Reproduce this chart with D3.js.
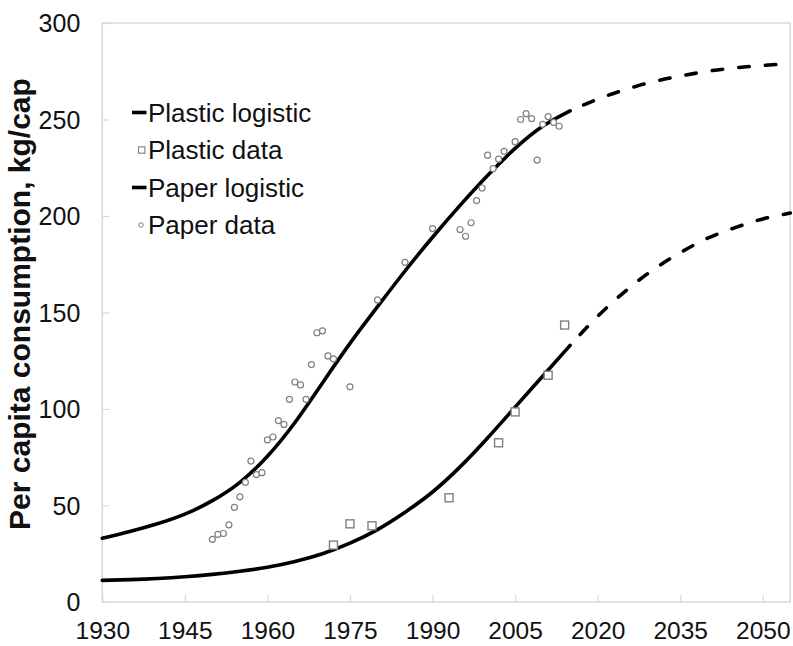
<!DOCTYPE html>
<html>
<head>
<meta charset="utf-8">
<script src="https://cdn.jsdelivr.net/npm/d3@7"></script>
<style>
  html, body { margin: 0; padding: 0; background: #fff; }
  svg { display: block; font-family: "Liberation Sans", Arial, sans-serif; }
</style>
</head>
<body>
<svg id="chart" width="793" height="646"></svg>
<script>
// Observed paper consumption (kg per capita)
const paperYears = [1950, 1951, 1952, 1953, 1954, 1955, 1956, 1957, 1958, 1959,
  1960, 1961, 1962, 1963, 1964, 1965, 1966, 1967, 1968, 1969, 1970, 1971, 1972,
  1975, 1980, 1985, 1990, 1995, 1996, 1997, 1998, 1999, 2000, 2001, 2002, 2003,
  2005, 2006, 2007, 2008, 2009, 2010, 2011, 2012, 2013];
const paperValues = [32.5, 35, 35.5, 40, 49, 54.5, 62, 73, 66, 67,
  84, 85.5, 94, 92, 105, 114, 112.5, 105, 123, 139.5, 140.5, 127.5, 126,
  111.5, 156.5, 176, 193.5, 193, 189.5, 196.5, 208, 214.5, 231.5, 224.5, 229.5, 233.5,
  238.5, 250, 253, 250.5, 229, 247.5, 251.5, 248.5, 246.5];

// Observed plastic consumption (kg per capita)
const plasticYears = [1972, 1975, 1979, 1993, 2002, 2005, 2011, 2014];
const plasticValues = [29.5, 40.5, 39.5, 54, 82.5, 98.5, 117.5, 143.5];

// Logistic fits sampled every five years
const curveYears = [1930, 1935, 1940, 1945, 1950, 1955, 1960, 1965, 1970, 1975,
  1980, 1985, 1990, 1995, 2000, 2005, 2010, 2015, 2020, 2025, 2030, 2035, 2040,
  2045, 2050, 2055];
const paperCurve = [33, 36.5, 40.5, 45.5, 52.5, 62, 75.5, 93, 113.5, 134,
  153, 171.5, 189, 205.5, 221, 235, 246.5, 254.5, 260.5, 265.5, 269.5, 272.5, 275,
  276.8, 278, 279];
const plasticCurve = [11.2, 11.6, 12.2, 13.1, 14.3, 15.9, 18, 21, 25, 30.5,
  37.5, 46.5, 57, 70, 85, 101, 117, 133, 148, 161, 172, 181, 188.5,
  194, 198.5, 201.5];
const projectionStart = 2015;

const xTicks = [1930, 1945, 1960, 1975, 1990, 2005, 2020, 2035, 2050];
const yTicks = [0, 50, 100, 150, 200, 250, 300];
const legendLabels = ["Plastic logistic", "Plastic data", "Paper logistic", "Paper data"];
const yTitle = "Per capita consumption, kg/cap";

const svg = d3.select("#chart");
const plotLeft = 102.3, plotRight = 790.3, plotTop = 23, plotBottom = 602;
const x = d3.scaleLinear().domain([1930, 2055]).range([plotLeft, plotRight]);
const y = d3.scaleLinear().domain([0, 300]).range([plotBottom, plotTop]);

const gridGray = "#d9d9d9";
const textColor = "#111";

// plot frame
svg.append("rect")
  .attr("x", plotLeft).attr("y", plotTop)
  .attr("width", plotRight - plotLeft).attr("height", plotBottom - plotTop)
  .attr("fill", "none").attr("stroke", gridGray).attr("stroke-width", 1.5);

// x axis
const gx = svg.append("g")
  .attr("transform", `translate(0,${plotBottom})`)
  .call(d3.axisBottom(x).tickValues(xTicks).tickSize(-7).tickFormat(d3.format("d")));
gx.select(".domain").remove();
gx.selectAll(".tick line").attr("stroke", gridGray).attr("stroke-width", 1.2);
gx.selectAll(".tick text")
  .attr("y", 20).attr("dy", "0.71em")
  .attr("fill", textColor).style("font-size", "24.5px");

// y axis
const gy = svg.append("g")
  .attr("transform", `translate(${plotLeft},0)`)
  .call(d3.axisLeft(y).tickValues(yTicks).tickSize(-7));
gy.select(".domain").remove();
gy.selectAll(".tick line").attr("stroke", gridGray).attr("stroke-width", 1.2);
gy.selectAll(".tick text")
  .attr("x", -22).attr("dy", "0.35em")
  .attr("fill", textColor).style("font-size", "25px");

// y axis title
svg.append("text")
  .attr("transform", `translate(30,304) rotate(-90)`)
  .attr("text-anchor", "middle")
  .attr("fill", textColor)
  .style("font-size", "30px").style("font-weight", "bold")
  .text(yTitle);

// logistic curves: solid over the observed period, dashed for the projection
const line = d3.line()
  .x(d => x(d[0])).y(d => y(d[1]))
  .curve(d3.curveNatural);

function drawCurve(values) {
  const pts = curveYears.map((yr, i) => [yr, values[i]]);
  const fitted = pts.filter(d => d[0] <= projectionStart);
  const projected = pts.filter(d => d[0] >= projectionStart);
  svg.append("path").datum(fitted)
    .attr("d", line).attr("fill", "none")
    .attr("stroke", "#000").attr("stroke-width", 3.6)
    .attr("stroke-linecap", "round");
  svg.append("path").datum(projected)
    .attr("d", line).attr("fill", "none")
    .attr("stroke", "#000").attr("stroke-width", 3.6)
    .attr("stroke-linecap", "round")
    .attr("stroke-dasharray", "10.5,16.2")
    .attr("stroke-dashoffset", 12);
}
drawCurve(plasticCurve);
drawCurve(paperCurve);

const markerGray = "#808080";

// plastic observations
svg.append("g").selectAll("rect")
  .data(plasticYears.map((yr, i) => [yr, plasticValues[i]]))
  .join("rect")
  .attr("x", d => x(d[0]) - 4).attr("y", d => y(d[1]) - 4)
  .attr("width", 8).attr("height", 8)
  .attr("fill", "#fff").attr("stroke", markerGray).attr("stroke-width", 1.4);

// paper observations
svg.append("g").selectAll("circle")
  .data(paperYears.map((yr, i) => [yr, paperValues[i]]))
  .join("circle")
  .attr("cx", d => x(d[0])).attr("cy", d => y(d[1]))
  .attr("r", 3)
  .attr("fill", "#fff").attr("stroke", markerGray).attr("stroke-width", 1.2);

// legend
const legendTop = 112.5, legendStep = 37.5, legendTextX = 148;
const lg = svg.append("g");
legendLabels.forEach((label, i) => {
  const cy = legendTop + i * legendStep;
  if (i % 2 === 0) {
    lg.append("line")
      .attr("x1", 132).attr("x2", 146.5).attr("y1", cy).attr("y2", cy)
      .attr("stroke", "#000").attr("stroke-width", 3.6);
  } else if (i === 1) {
    lg.append("rect")
      .attr("x", 138.5).attr("y", cy - 3.2).attr("width", 6.4).attr("height", 6.4)
      .attr("fill", "#fff").attr("stroke", markerGray).attr("stroke-width", 1.1);
  } else {
    lg.append("circle")
      .attr("cx", 141).attr("cy", cy).attr("r", 2.3)
      .attr("fill", "#fff").attr("stroke", markerGray).attr("stroke-width", 1);
  }
  lg.append("text")
    .attr("x", legendTextX).attr("y", cy).attr("dy", "0.35em")
    .attr("fill", textColor).style("font-size", "26px")
    .text(label);
});
</script>
</body>
</html>
